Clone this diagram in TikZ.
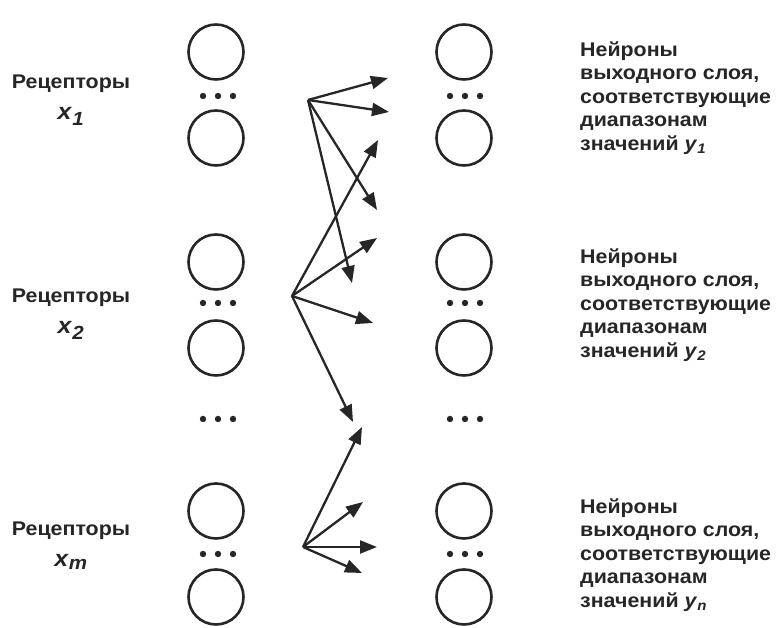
\documentclass[tikz,border=0pt]{standalone}
\usepackage{fontspec}
\setsansfont{Liberation Sans}[FakeStretch=1.08]
\usetikzlibrary{arrows.meta}
\definecolor{ink}{gray}{0.15}
\tikzset{
  neuron/.style={circle,draw=ink,line width=2.6pt,minimum size=55pt,inner sep=0pt},
  link/.style={draw=ink,line width=2.3pt,-{Triangle[length=17pt,width=13pt]}},
  caption/.style={text=ink,font=\sffamily\bfseries\fontsize{19.8}{23.5}\selectfont,align=left,anchor=west,inner sep=0pt},
  recept/.style={text=ink,font=\sffamily\bfseries\fontsize{19.8}{31}\selectfont,align=center,inner sep=0pt},
}
\newcommand{\sub}[2]{\textit{#1}\textsubscript{\textit{#2}}}
\newcommand{\bigsub}[2]{{\fontsize{23}{23}\selectfont\textit{#1}}\textsubscript{\fontsize{19}{19}\selectfont\textit{#2}}}

\begin{document}
\begin{tikzpicture}[x=1pt,y=1pt]
\path[use as bounding box] (0,0) rectangle (780,628);
% neurons, both columns
\foreach \n/\y in {a/576,b/490,c/366,d/280,e/117,f/31} {
  \node[neuron] (in\n) at (216,\y) {};
  \node[neuron] (out\n) at (464,\y) {};
}
\foreach \y in {532,325,209,74} \foreach \d in {-15,0,15} {
  \fill[ink] (218+\d,\y) circle (3.2pt);
  \fill[ink] (465+\d,\y) circle (3.2pt);
}
% receptor labels
\node[recept] (rec1) at (71,528) {Рецепторы\\\bigsub{x}{1}};
\node[recept] (rec2) at (71,314) {Рецепторы\\\bigsub{x}{2}};
\node[recept] (rec3) at (71,82) {Рецепторы\\\bigsub{x}{m}};
% output labels
\node[caption] (out1) at (580,530) {Нейроны\\выходного слоя,\\соответствующие\\диапазонам\\значений \sub{y}{1}};
\node[caption] (out2) at (580,323) {Нейроны\\выходного слоя,\\соответствующие\\диапазонам\\значений \sub{y}{2}};
\node[caption] (out3) at (580,73) {Нейроны\\выходного слоя,\\соответствующие\\диапазонам\\значений \sub{y}{n}};
% fan-out points and arrow ends
\coordinate (s1) at (308,528);
\coordinate (s2) at (292,332);
\coordinate (s3) at (303,81);
\foreach \k/\x/\y in {1/388/550,2/389/516,3/377/418,4/352/345}
  \coordinate (e1\k) at (\x,\y);
\foreach \k/\x/\y in {1/378/488,2/377/390,3/373/305,4/353/206}
  \coordinate (e2\k) at (\x,\y);
\foreach \k/\x/\y in {1/362/201,2/363/126,3/377/81,4/362/55}
  \coordinate (e3\k) at (\x,\y);
\foreach \s in {1,2,3} \foreach \k in {1,...,4}
  \draw[link] (s\s) -- (e\s\k);
\end{tikzpicture}
\end{document}
